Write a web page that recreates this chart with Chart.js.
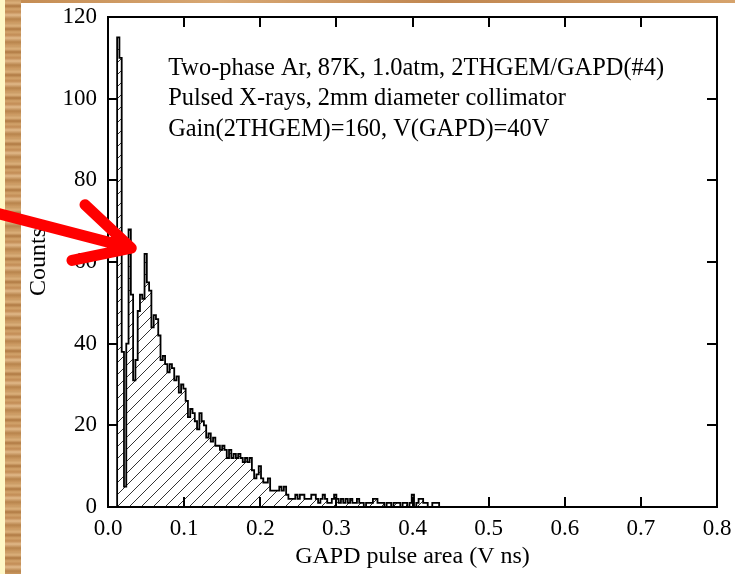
<!DOCTYPE html>
<html><head><meta charset="utf-8">
<script src="https://cdn.jsdelivr.net/npm/chart.js@4.4.1/dist/chart.umd.min.js"></script>
<style>
html,body{margin:0;padding:0;background:#fff;width:735px;height:574px;overflow:hidden}
#wrap{position:relative;width:735px;height:574px}
#woodT{position:absolute;left:0;top:0;width:735px;height:3px;background:linear-gradient(90deg,#c38a50,#d8a874 30%,#c08650 60%,#d6a36c)}
#woodL{position:absolute;left:0;top:0;width:21px;height:574px;
background:repeating-linear-gradient(180deg,#c99a63 0px,#dbb07b 3px,#b07a43 6px,#d2a36b 9px,#c28c55 12px,#e0b888 15px,#b8844c 19px,#cf9e66 23px)}
#pale{position:absolute;left:0;top:0;width:5px;height:574px;background:#fff8c6}
canvas{position:absolute;left:0;top:0}
</style></head><body>
<div id="wrap"><div id="woodT"></div><div id="woodL"></div><div id="pale"></div><canvas id="c" width="735" height="574"></canvas></div>
<script>
// Histogram bin edges (V ns)
const binEdges = [
0.012,0.015,0.018,0.021,0.024,0.027,0.030,0.033,0.036,0.039,
0.042,0.045,0.048,0.051,0.054,0.057,0.060,0.063,0.066,0.069,
0.072,0.075,0.078,0.081,0.084,0.087,0.090,0.093,0.096,0.099,
0.102,0.105,0.108,0.111,0.114,0.117,0.120,0.123,0.126,0.129,
0.132,0.135,0.138,0.141,0.144,0.147,0.150,0.153,0.156,0.159,
0.162,0.165,0.168,0.171,0.174,0.177,0.180,0.183,0.186,0.189,
0.192,0.195,0.198,0.201,0.204,0.207,0.210,0.213,0.216,0.219,
0.222,0.225,0.228,0.231,0.234,0.237,0.240,0.243,0.246,0.249,
0.252,0.255,0.258,0.261,0.264,0.267,0.270,0.273,0.276,0.279,
0.282,0.285,0.288,0.291,0.294,0.297,0.300,0.303,0.306,0.309,
0.312,0.315,0.318,0.321,0.324,0.327,0.330,0.333,0.336,0.339,
0.342,0.345,0.348,0.351,0.354,0.357,0.360,0.363,0.366,0.369,
0.372,0.375,0.378,0.381,0.384,0.387,0.390,0.393,0.396,0.399,
0.402,0.405,0.408,0.411,0.414,0.417,0.420,0.423,0.426,0.429,
0.432,0.435,0.438,0.441];
// Counts per bin
const counts = [
37,115,110,38,5,40,68,52,31,36,
48,52,51,62,55,53,44,47,46,42,
36,37,35,33,35,34,31,32,28,30,
29,26,22,24,23,21,19,23,21,20,
17,18,16,17,15,15,14,15,14,12,
14,12,13,12,13,12,11,12,11,12,
9,7,8,10,7,6,6,7,4,4,
4,4,5,4,5,3,2,2,2,3,
2,3,3,2,2,2,3,3,2,1,
2,3,2,1,1,2,3,2,1,2,
1,2,1,2,1,1,2,1,1,0,
1,1,1,2,2,1,1,1,0,1,
1,0,1,1,1,0,1,1,0,1,
3,0,1,2,2,1,1,0,0,1,
1,1,0];
const xTickValues = [0,0.1,0.2,0.3,0.4,0.5,0.6,0.7,0.8];
const yTickValues = [0,20,40,60,80,100,120];
const xTitle = 'GAPD pulse area (V ns)';
const yTitle = 'Counts';
const noteLines = [
  'Two-phase Ar, 87K, 1.0atm, 2THGEM/GAPD(#4)',
  'Pulsed X-rays, 2mm diameter collimator',
  'Gain(2THGEM)=160, V(GAPD)=40V'
];
const SERIF = '"Liberation Serif","Times New Roman",serif';

const pts = [{x: binEdges[0], y: 0}];
counts.forEach((c, i) => pts.push({x: binEdges[i], y: c}));
pts.push({x: binEdges[binEdges.length - 1], y: 0});

const ctx0 = document.getElementById('c').getContext('2d');
function hatch() {
  const c = document.createElement('canvas'); c.width = 12; c.height = 12;
  const g = c.getContext('2d');
  g.strokeStyle = '#333'; g.lineWidth = 1;
  g.beginPath();
  g.moveTo(0, 12); g.lineTo(12, 0);
  g.moveTo(-6, 6); g.lineTo(6, -6);
  g.moveTo(6, 18); g.lineTo(18, 6);
  g.stroke();
  return ctx0.createPattern(c, 'repeat');
}

const framePlugin = {
  id: 'frame',
  afterDatasetsDraw(chart) {
    const {ctx, chartArea: a, scales: {x, y}} = chart;
    ctx.save();
    ctx.strokeStyle = '#000';
    ctx.lineWidth = 2;
    ctx.strokeRect(a.left, a.top, a.right - a.left, a.bottom - a.top);
    const L = 10;
    ctx.beginPath();
    y.ticks.forEach(t => {
      const p = Math.round(y.getPixelForValue(t.value));
      ctx.moveTo(a.left, p); ctx.lineTo(a.left + L, p);
      ctx.moveTo(a.right - L, p); ctx.lineTo(a.right, p);
    });
    x.ticks.forEach(t => {
      const p = Math.round(x.getPixelForValue(t.value));
      ctx.moveTo(p, a.bottom); ctx.lineTo(p, a.bottom - L);
      ctx.moveTo(p, a.top); ctx.lineTo(p, a.top + L);
    });
    ctx.stroke();
    ctx.restore();
  },
  afterDraw(chart) {
    const {ctx, scales: {x, y}} = chart;
    ctx.save();
    ctx.fillStyle = '#000';
    ctx.font = '24.4px ' + SERIF;
    ctx.textBaseline = 'middle';
    ctx.textAlign = 'left';
    const tx = x.getPixelForValue(0.079);
    [107.4, 100.0, 92.5].forEach((v, i) => ctx.fillText(noteLines[i], tx, y.getPixelForValue(v)));
    // red arrow
    const P = (a, b) => [x.getPixelForValue(a), y.getPixelForValue(b)];
    const tail = P(-0.147, 72.0), tip = P(0.0305, 63.4), w1 = P(-0.0302, 74.0), w2 = P(-0.0473, 60.4);
    ctx.strokeStyle = '#ff0000';
    ctx.lineWidth = 11;
    ctx.lineCap = 'round';
    ctx.lineJoin = 'round';
    ctx.beginPath();
    ctx.moveTo(tail[0], tail[1]); ctx.lineTo(tip[0], tip[1]);
    ctx.moveTo(w1[0], w1[1]); ctx.lineTo(tip[0], tip[1]); ctx.lineTo(w2[0], w2[1]);
    ctx.stroke();
    ctx.restore();
  }
};

new Chart(ctx0, {
  type: 'line',
  data: {datasets: [{
    data: pts,
    stepped: 'after',
    borderColor: '#000',
    borderWidth: 1.8,
    backgroundColor: hatch(),
    fill: 'origin',
    pointRadius: 0,
    tension: 0
  }]},
  options: {
    responsive: false,
    animation: false,
    devicePixelRatio: 1,
    layout: {padding: {left: 0, top: 17, right: 18, bottom: 0}},
    plugins: {legend: {display: false}, tooltip: {enabled: false}},
    scales: {
      x: {
        type: 'linear', min: 0, max: 0.8,
        afterBuildTicks: s => { s.ticks = xTickValues.map(v => ({value: v})); },
        afterFit: s => { s.height = 67; s.paddingLeft = 0; s.paddingRight = 0; },
        grid: {display: false, drawTicks: false},
        border: {display: false},
        ticks: {color: '#000', font: {family: SERIF, size: 23}, padding: 8,
          callback: v => Number(v).toFixed(1), maxRotation: 0, autoSkip: false},
        title: {display: true, text: xTitle, color: '#000', font: {family: SERIF, size: 24}, padding: {top: 0, bottom: 3}}
      },
      y: {
        type: 'linear', min: 0, max: 120,
        afterBuildTicks: s => { s.ticks = yTickValues.map(v => ({value: v})); },
        afterFit: s => { s.width = 108; s.paddingTop = 0; s.paddingBottom = 0; },
        grid: {display: false, drawTicks: false},
        border: {display: false},
        ticks: {color: '#000', font: {family: SERIF, size: 23}, padding: 11, autoSkip: false},
        title: {display: true, text: yTitle, color: '#000', font: {family: SERIF, size: 24}, padding: {top: 24, bottom: 0}}
      }
    }
  },
  plugins: [framePlugin]
});
</script>
</body></html>
